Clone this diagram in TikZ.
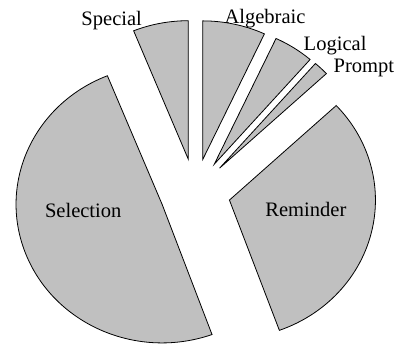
\documentclass[tikz,border=0pt]{standalone}
\usepackage{fontspec}
\setmainfont{Liberation Serif}
\definecolor{piegray}{HTML}{C0C0C0}
\tikzset{
  slice/.style={draw=black,fill=piegray,line width=0.6pt},
  lbl/.style={font=\fontsize{15.4}{18}\selectfont,inner sep=0pt,anchor=base}
}

\begin{document}
\begin{tikzpicture}[x=109.5pt,y=103.95pt]
    \useasboundingbox (-1.336,-1.088) rectangle (1.376,1.387);
    % exploded slices, angles in degrees
    \foreach \a/\b in {-70/43, 43/49, 49/65, 65/90, 90/112, 112/290}{
      \draw[slice] ({(\a+\b)/2}:0.242) -- ++(\a:1)
         arc[start angle=\a,end angle=\b,radius=1] -- cycle;}
    \node[lbl] (sel) at (-0.766,-0.181) {Selection};
    \node[lbl] (rem) at (0.759,-0.177) {Reminder};
    \node[lbl] (spec) at (-0.571,1.206) {Special};
    \node[lbl] (alg) at (0.479,1.219) {Algebraic};
    \node[lbl] (logic) at (0.959,1.026) {Logical};
    \node[lbl] (prompt) at (1.156,0.862) {Prompt};
  \end{tikzpicture}
\end{document}
